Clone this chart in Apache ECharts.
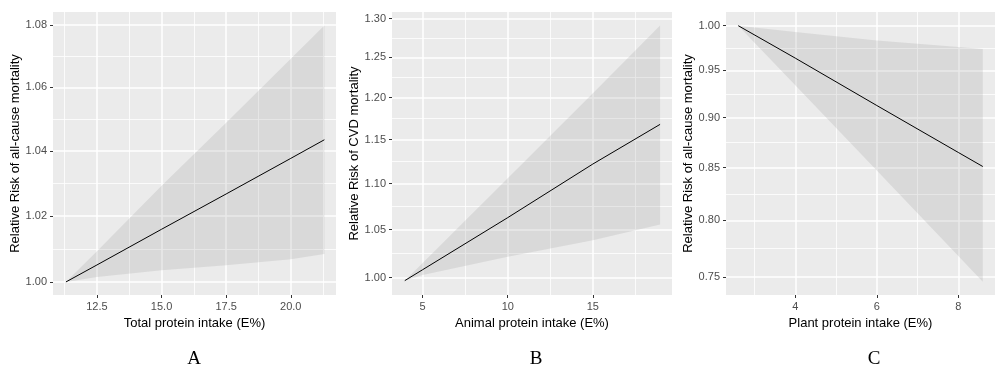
<!DOCTYPE html>
<html>
<head>
<meta charset="utf-8">
<script src="https://cdn.jsdelivr.net/npm/echarts@6/dist/echarts.min.js"></script>
<style>
  html, body { margin: 0; padding: 0; background: #fff; }
  #chart { width: 995px; height: 368px; }
</style>
</head>
<body>
<div id="chart"></div>
<script>
// panel A: total protein vs all-cause mortality
const totalX = [11.3, 12.5, 15, 17.5, 20, 21.3];
const totalFit = [1.0, 1.0051, 1.0159, 1.0267, 1.0377, 1.0435];
const totalLower = [1.0, 1.0015, 1.0035, 1.005, 1.0068, 1.0084];
const totalUpper = [1.0, 1.0092, 1.0292, 1.0488, 1.0691, 1.0798];
const totalXTicks = [12.5, 15, 17.5, 20];
const totalXMinor = [11.25, 13.75, 16.25, 18.75, 21.25];
const totalYTicks = [1.0, 1.02, 1.04, 1.06, 1.08];

// panel B: animal protein vs CVD mortality
const animalX = [3.95, 5, 10, 15, 18.95];
const animalFit = [0.997, 1.0081, 1.0627, 1.122, 1.168];
const animalLower = [0.997, 1.0027, 1.0214, 1.0387, 1.0553];
const animalUpper = [0.997, 1.015, 1.106, 1.2055, 1.291];
const animalXTicks = [5, 10, 15];
const animalXMinor = [7.5, 12.5, 17.5];
const animalYTicks = [1.0, 1.05, 1.1, 1.15, 1.2, 1.25, 1.3];

// panel C: plant protein vs all-cause mortality
const plantX = [2.6, 4, 6, 8, 8.6];
const plantFit = [1.0, 0.9635, 0.9126, 0.8648, 0.851];
const plantLower = [1.0, 0.934, 0.847, 0.768, 0.7457];
const plantUpper = [1.0, 0.9929, 0.9832, 0.9758, 0.9736];
const plantXTicks = [4, 6, 8];
const plantXMinor = [3, 5, 7];
const plantYTicks = [0.75, 0.8, 0.85, 0.9, 0.95, 1.0];

const BG = '#EBEBEB';
const BAND = 'rgba(153,153,153,0.21)';
const FONT = 'Liberation Sans, Arial, sans-serif';

// minor gridlines sit halfway between major ones on the log scale
const logMid = (ticks) => ticks.slice(1).map((t, i) => Math.sqrt(t * ticks[i]));

const panels = [
  {
    left: 53, width: 283, xMin: 10.8, xMax: 21.75, yMin: 0.9961, yMax: 1.0842,
    xs: totalX, fit: totalFit, lo: totalLower, hi: totalUpper,
    xTicks: totalXTicks, xMinor: totalXMinor, yTicks: totalYTicks, xDigits: 1,
    xName: 'Total protein intake (E%)', yName: 'Relative Risk of all-cause mortality',
    letter: 'A', letterX: 194
  },
  {
    left: 392, width: 280, xMin: 3.2, xMax: 19.65, yMin: 0.9826, yMax: 1.3088,
    xs: animalX, fit: animalFit, lo: animalLower, hi: animalUpper,
    xTicks: animalXTicks, xMinor: animalXMinor, yTicks: animalYTicks, xDigits: 0,
    xName: 'Animal protein intake (E%)', yName: 'Relative Risk of CVD mortality',
    letter: 'B', letterX: 536
  },
  {
    left: 726, width: 278, xMin: 2.3, xMax: 8.9, yMin: 0.7345, yMax: 1.0158,
    xs: plantX, fit: plantFit, lo: plantLower, hi: plantUpper,
    xTicks: plantXTicks, xMinor: plantXMinor, yTicks: plantYTicks, xDigits: 0,
    xName: 'Plant protein intake (E%)', yName: 'Relative Risk of all-cause mortality',
    letter: 'C', letterX: 874
  }
];

const grid = [], xAxis = [], yAxis = [], series = [], graphic = [];

panels.forEach((p, gi) => {
  grid.push({
    left: p.left, top: 12, width: p.width, height: 283,
    show: true, backgroundColor: BG, borderWidth: 0
  });

  // major x axis with labels
  xAxis.push({
    type: 'value', gridIndex: gi, min: p.xMin, max: p.xMax,
    name: p.xName, nameLocation: 'middle', nameGap: 22,
    nameTextStyle: { color: '#000', fontSize: 13, fontFamily: FONT },
    axisLine: { show: false },
    axisTick: { show: true, length: 3, lineStyle: { color: '#333', width: 1 }, customValues: p.xTicks },
    axisLabel: {
      customValues: p.xTicks, margin: 6, color: '#4D4D4D', fontSize: 11, fontFamily: FONT,
      formatter: (v) => Number(v).toFixed(p.xDigits)
    },
    splitLine: { show: true, lineStyle: { color: '#fff', width: 1.5 } }
  });
  // minor x gridlines only
  xAxis.push({
    type: 'value', gridIndex: gi, min: p.xMin, max: p.xMax,
    axisLine: { show: false },
    axisTick: { show: false, customValues: p.xMinor },
    axisLabel: { show: false },
    splitLine: { show: true, lineStyle: { color: '#fff', width: 0.8 } }
  });

  // major y axis (log scale)
  yAxis.push({
    type: 'log', gridIndex: gi, min: p.yMin, max: p.yMax,
    name: p.yName, nameLocation: 'middle', nameGap: 31,
    nameTextStyle: { color: '#000', fontSize: 13, fontFamily: FONT },
    axisLine: { show: false },
    axisTick: { show: true, length: 3, lineStyle: { color: '#333', width: 1 }, customValues: p.yTicks },
    axisLabel: {
      customValues: p.yTicks, margin: 6, color: '#4D4D4D', fontSize: 11, fontFamily: FONT,
      formatter: (v) => Number(v).toFixed(2)
    },
    splitLine: { show: true, lineStyle: { color: '#fff', width: 1.5 } }
  });
  yAxis.push({
    type: 'log', gridIndex: gi, min: p.yMin, max: p.yMax,
    axisLine: { show: false },
    axisTick: { show: false, customValues: logMid(p.yTicks) },
    axisLabel: { show: false },
    splitLine: { show: true, lineStyle: { color: '#fff', width: 0.8 } }
  });

  // confidence band as one polygon through the axis scales
  const pts = p.xs.map((x, i) => [x, p.lo[i], p.hi[i]]);
  series.push({
    type: 'custom', xAxisIndex: gi * 2, yAxisIndex: gi * 2,
    data: pts, silent: true, z: 1,
    encode: { x: 0, y: [1, 2] },
    renderItem: (params, api) => {
      if (params.dataIndex !== 0) return null;
      const upper = pts.map((d) => api.coord([d[0], d[2]]));
      const lower = pts.map((d) => api.coord([d[0], d[1]])).reverse();
      return {
        type: 'polygon',
        shape: { points: upper.concat(lower) },
        style: { fill: BAND }
      };
    }
  });

  // fitted line
  series.push({
    type: 'line', xAxisIndex: gi * 2, yAxisIndex: gi * 2,
    data: p.xs.map((x, i) => [x, p.fit[i]]),
    showSymbol: false, silent: true, z: 3,
    lineStyle: { color: '#000', width: 1 }
  });

  // panel letter under each plot
  graphic.push({
    type: 'text', x: p.letterX, y: 359, silent: true,
    style: {
      text: p.letter, fill: '#000', font: '19px "Liberation Serif", "Times New Roman", serif',
      textAlign: 'center', textVerticalAlign: 'middle'
    }
  });
});

const chart = echarts.init(document.getElementById('chart'), null, { renderer: 'canvas' });
chart.setOption({
  animation: false,
  backgroundColor: '#fff',
  grid: grid,
  xAxis: xAxis,
  yAxis: yAxis,
  series: series,
  graphic: graphic
});
</script>
</body>
</html>
